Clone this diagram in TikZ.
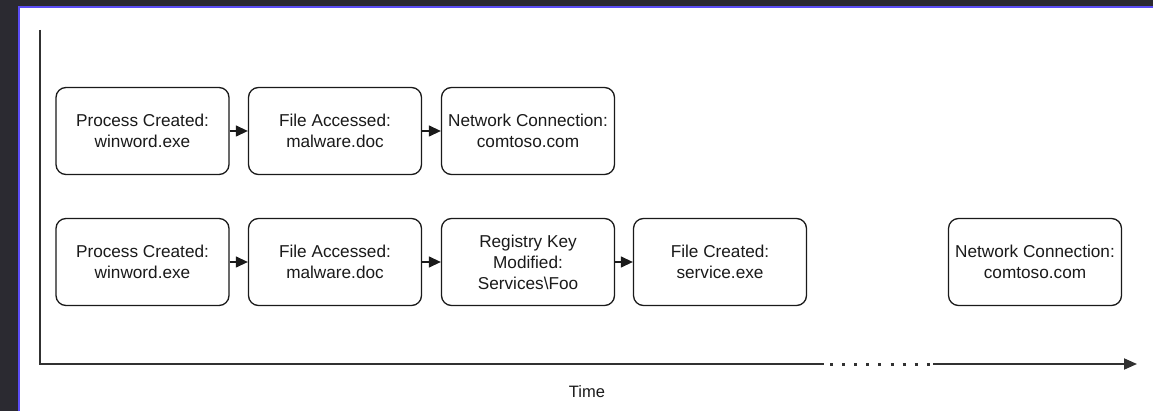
\documentclass[tikz,border=0pt]{standalone}
\usepackage{fontspec}
\setmainfont{Liberation Sans}
\usetikzlibrary{arrows.meta}
\definecolor{frame}{HTML}{2B2A31}
\definecolor{rim}{HTML}{5B4DF5}
\definecolor{ink}{HTML}{1A1A1A}

\begin{document}
\begin{tikzpicture}[x=1pt,y=-1pt,
	event/.style={draw=ink, line width=1.3pt, rounded corners=10pt, minimum width=173pt, minimum height=87pt, inner sep=0pt, align=center, text=ink, font=\fontsize{17.2}{21}\selectfont},
	link/.style={draw=ink, line width=1.3pt, -{Triangle[length=12pt,width=11pt]}},
	axis/.style={draw=ink!90, line width=1.8pt}]
	%%%%% FRAME %%%%%
	\useasboundingbox (0,0) rectangle (1153,411);
	\fill[frame] (0,0) rectangle (1153,411);
	\fill[white] (19,8) rectangle (1153,411);
	\draw[rim, line width=2pt] (18.5,411) -- (18.5,7.5) -- (1153,7.5);
	
	%%%%% AXES %%%%%
	\coordinate (top) at (40,30);
	\coordinate (origin) at (40,364);
	\coordinate (gapstart) at (824,364);
	\coordinate (gapend) at (933,364);
	\coordinate (end) at (1137,364);
	\draw[axis] (top) -- (origin) -- (gapstart);
	\draw[axis, line width=3pt, dash pattern=on 3pt off 9.1pt] (830,364) -- (gapend);
	\draw[axis, -{Triangle[length=13pt,width=11pt]}] (gapend) -- (end);
	\node[text=ink, font=\fontsize{16.5}{19}\selectfont] (time) at (587,392) {Time};
	
	%%%%% FIRST ROW %%%%%
	\node[event] (proc1) at (142.5,131) {Process Created:\\winword.exe};
	\node[event] (file1) at (335,131) {File Accessed:\\malware.doc};
	\node[event] (net1) at (528,131) {Network Connection:\\comtoso.com};
	\draw[link] (proc1) -- (file1);
	\draw[link] (file1) -- (net1);
	
	%%%%% SECOND ROW %%%%%
	\node[event] (proc2) at (142.5,262) {Process Created:\\winword.exe};
	\node[event] (file2) at (335,262) {File Accessed:\\malware.doc};
	\node[event] (reg2) at (528,262) {Registry Key\\Modified:\\Services\textbackslash Foo};
	\node[event] (made2) at (720,262) {File Created:\\service.exe};
	\node[event] (net2) at (1035,262) {Network Connection:\\comtoso.com};
	\draw[link] (proc2) -- (file2);
	\draw[link] (file2) -- (reg2);
	\draw[link] (reg2) -- (made2);
\end{tikzpicture}
\end{document}
